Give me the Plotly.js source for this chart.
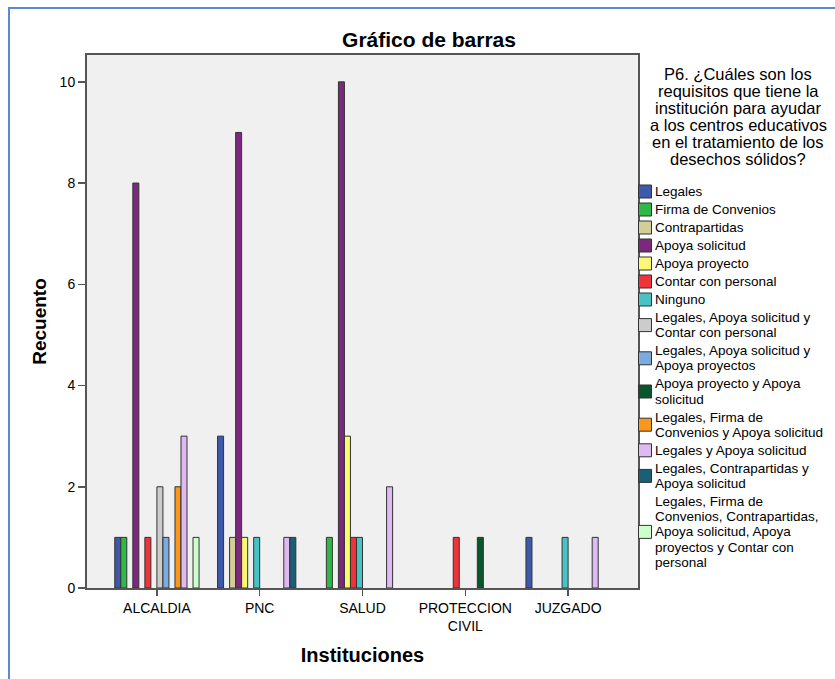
<!DOCTYPE html>
<html>
<head>
<meta charset="utf-8">
<script src="https://cdn.plot.ly/plotly-3.0.1.min.js"></script>
<style>
html,body{margin:0;padding:0;background:#fff;overflow:hidden;}
#chart{position:absolute;left:0;top:0;width:835px;height:679px;}
#frame{position:absolute;left:8px;top:7px;width:900px;height:800px;border:2px solid #5b8ad2;pointer-events:none;}
</style>
</head>
<body>
<div id="chart"></div>
<div id="frame"></div>
<script>
const categories = ["ALCALDIA", "PNC", "SALUD", "PROTECCION<br>CIVIL", "JUZGADO"];

const seriesNames = [
  "Legales",
  "Firma de Convenios",
  "Contrapartidas",
  "Apoya solicitud",
  "Apoya proyecto",
  "Contar con personal",
  "Ninguno",
  "Legales, Apoya solicitud y<br>Contar con personal",
  "Legales, Apoya solicitud y<br>Apoya proyectos",
  "Apoya proyecto y Apoya<br>solicitud",
  "Legales, Firma de<br>Convenios y Apoya solicitud",
  "Legales y Apoya solicitud",
  "Legales, Contrapartidas y<br>Apoya solicitud",
  "Legales, Firma de<br>Convenios, Contrapartidas,<br>Apoya solicitud, Apoya<br>proyectos y Contar con<br>personal"
];

const legendTitleLines = [
  "P6. ¿Cuáles son los",
  "requisitos que tiene la",
  "institución para ayudar",
  "a los centros educativos",
  "en el tratamiento de los",
  "desechos sólidos?"
];

const legales              = [1, 3, 0, 0, 1];
const firmaConvenios       = [1, 0, 1, 0, 0];
const contrapartidas       = [0, 1, 0, 0, 0];
const apoyaSolicitud       = [8, 9, 10, 0, 0];
const apoyaProyecto        = [0, 1, 3, 0, 0];
const contarPersonal       = [1, 0, 1, 1, 0];
const ninguno              = [0, 1, 1, 0, 1];
const legApoyaContar       = [2, 0, 0, 0, 0];
const legApoyaProyectos    = [1, 0, 0, 0, 0];
const proyectoYSolicitud   = [0, 0, 0, 1, 0];
const legFirmaApoya        = [2, 0, 0, 0, 0];
const legYApoya            = [3, 1, 2, 0, 1];
const legContrapApoya      = [0, 1, 0, 0, 0];
const legTodos             = [1, 0, 0, 0, 0];

const seriesValues = [legales, firmaConvenios, contrapartidas, apoyaSolicitud, apoyaProyecto,
  contarPersonal, ninguno, legApoyaContar, legApoyaProyectos, proyectoYSolicitud,
  legFirmaApoya, legYApoya, legContrapApoya, legTodos];

const colors = ["#3e58ac", "#2eb848", "#d3ce97", "#7c287d", "#fbf873", "#ef3338", "#48c2c5",
  "#cccccc", "#7baadd", "#0a562c", "#f8971b", "#ddbaf1", "#1a5f76", "#ccffcc"];

const font = "Liberation Sans, Arial, sans-serif";
const outline = "#333333";

const traces = seriesNames.map((n, i) => ({
  type: "bar",
  name: n.replace(/<br>/g, " "),
  x: categories,
  y: seriesValues[i],
  marker: {
    color: colors[i],
    line: {color: outline, width: seriesValues[i].map(v => v > 0 ? 1 : 0)}
  },
  showlegend: false
}));

// page geometry (pixels)
const W = 835, H = 679, ML = 87, MR = 197, MT = 55, MB = 91;
const PW = W - ML - MR, PH = H - MT - MB;
const px = p => (p - ML) / PW;
const py = p => (H - MB - p) / PH;

// legend drawn next to the plot
const annotations = [];
const shapes = [];
const titleCenterX = 738, titleFirstY = 74, titleStep = 17;
legendTitleLines.forEach((t, k) => {
  annotations.push({
    text: t, showarrow: false, xref: "paper", yref: "paper",
    x: px(titleCenterX), y: py(titleFirstY + k * titleStep),
    xanchor: "center", yanchor: "middle", align: "center",
    font: {family: font, size: 16.5, color: "#000"}
  });
});

const keyX0 = 638.5, keySize = 13, textX = 653, firstY = 191.5, lineStep = 15.2, itemGap = 18;
let cy = firstY;
seriesNames.forEach((n, i) => {
  const lines = n.split("<br>");
  lines.forEach((ln, j) => {
    annotations.push({
      text: ln, showarrow: false, xref: "paper", yref: "paper",
      x: px(textX), y: py(cy + j * lineStep),
      xanchor: "left", yanchor: "middle", align: "left",
      font: {family: font, size: 13.5, color: "#000"}
    });
  });
  const mid = cy + (lines.length - 1) * lineStep / 2;
  shapes.push({
    type: "rect", xref: "paper", yref: "paper",
    x0: px(keyX0), x1: px(keyX0 + keySize),
    y0: py(mid - keySize / 2), y1: py(mid + keySize / 2),
    fillcolor: colors[i], line: {color: outline, width: 1}
  });
  cy += (lines.length - 1) * lineStep + itemGap;
});

const layout = {
  width: W, height: H,
  paper_bgcolor: "#ffffff",
  plot_bgcolor: "#f0f0f0",
  margin: {l: ML, r: MR, t: MT, b: MB, pad: 0},
  barmode: "group",
  bargap: 0.18,
  bargroupgap: 0,
  font: {family: font, size: 14, color: "#000"},
  title: {
    text: "<b>Gráfico de barras</b>",
    font: {family: font, size: 21, color: "#000"},
    x: 429 / W, xref: "container", xanchor: "center",
    y: 1 - 40 / H, yref: "container", yanchor: "middle"
  },
  xaxis: {
    type: "category",
    range: [-0.68, 4.68],
    showgrid: false, zeroline: false,
    showline: true, linecolor: "#555555", linewidth: 2, mirror: true,
    ticks: "outside", ticklen: 6, tickcolor: "#555555", tickwidth: 1.5,
    tickfont: {family: font, size: 14, color: "#000"},
    title: {text: "<b>Instituciones</b>", font: {family: font, size: 20, color: "#000"}, standoff: 15}
  },
  yaxis: {
    range: [0, 10.53],
    tickvals: [0, 2, 4, 6, 8, 10],
    showgrid: false, zeroline: false,
    showline: true, linecolor: "#555555", linewidth: 2, mirror: true,
    ticks: "outside", ticklen: 7, tickcolor: "#555555", tickwidth: 1.5,
    tickfont: {family: font, size: 14, color: "#000"},
    title: {text: "<b>Recuento</b>", font: {family: font, size: 19, color: "#000"}, standoff: 8}
  },
  showlegend: false,
  annotations: annotations,
  shapes: shapes
};

Plotly.newPlot("chart", traces, layout, {displayModeBar: false, staticPlot: true});
</script>
</body>
</html>
